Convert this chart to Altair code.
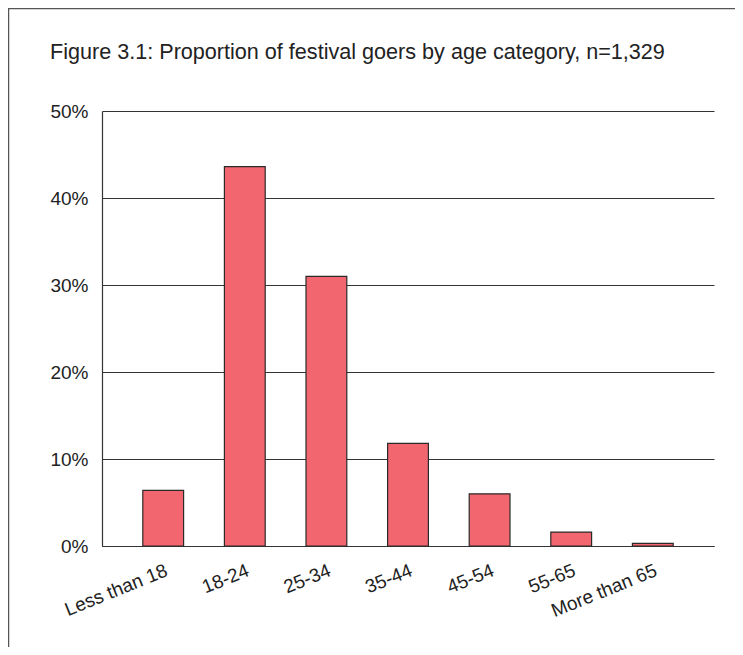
import altair as alt
import pandas as pd

categories = ["Less than 18", "18-24", "25-34", "35-44", "45-54", "55-65", "More than 65"]
shares = [0.064, 0.436, 0.310, 0.118, 0.060, 0.016, 0.003]
title_text = "Figure 3.1: Proportion of festival goers by age category, n=1,329"

df = pd.DataFrame({"age": categories, "share": shares})

FONT = "Liberation Sans"

bars = alt.Chart(df).mark_bar(
    color="#F2666F", stroke="#2a2a2a", strokeWidth=1.2
).encode(
    x=alt.X("age:N", sort=categories, title=None,
            scale=alt.Scale(paddingInner=0.5, paddingOuter=0.5),
            axis=alt.Axis(labelAngle=-22, labelAlign="right", labelBaseline="top",
                          labelPadding=15, ticks=False, domain=True,
                          domainColor="#333333", domainWidth=1.2,
                          labelFont=FONT, labelFontSize=19, labelColor="#222222")),
    y=alt.Y("share:Q", title=None,
            scale=alt.Scale(domain=[0, 0.5], nice=False),
            axis=alt.Axis(format=".0%", values=[0, 0.1, 0.2, 0.3, 0.4, 0.5],
                          ticks=False, domain=True, domainColor="#333333", domainWidth=1.2,
                          grid=True, gridColor="#333333", gridWidth=1.1,
                          labelPadding=14, labelFont=FONT, labelFontSize=19,
                          labelColor="#222222")),
)

frame_data = alt.Data(values=[{"f": 1}])
frame_left = alt.Chart(frame_data).mark_rule(color="#555555", strokeWidth=1.5).encode(
    x=alt.value(-93.5), y=alt.value(-103), y2=alt.value(540)
)
frame_top = alt.Chart(frame_data).mark_rule(color="#555555", strokeWidth=1.5).encode(
    x=alt.value(-94), x2=alt.value(700), y=alt.value(-102.5)
)

chart = alt.layer(frame_left, frame_top, bars).properties(
    width=612, height=435,
    title=alt.TitleParams(title_text, anchor="start", frame="group", dx=-52,
                          font=FONT, fontSize=21.6, fontWeight="normal",
                          color="#222222", offset=-56),
    padding={"left": 94, "top": 103, "right": 21, "bottom": 101},
    autosize=alt.AutoSizeParams(type="none"),
    background="white",
).configure_view(stroke=None)

chart.save("out.html", embed_options={"renderer": "svg", "actions": False})
